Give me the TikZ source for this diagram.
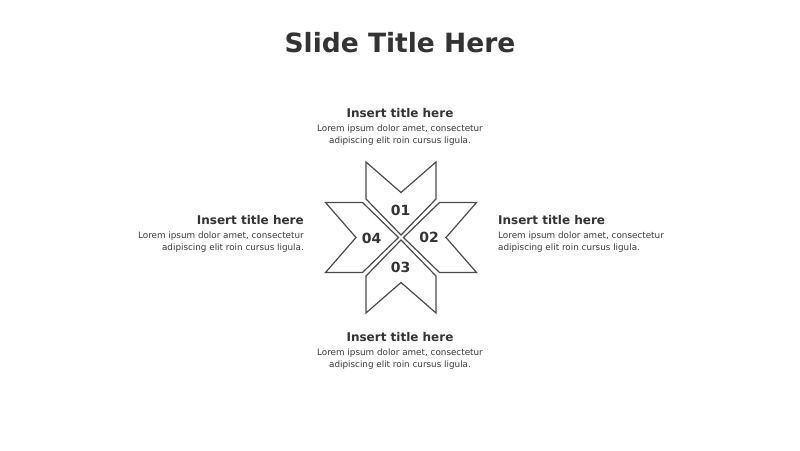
\documentclass[tikz,border=0pt]{standalone}
\usepackage{fontspec}
\setmainfont{DejaVu Sans}
\definecolor{titlecol}{HTML}{333333}
\definecolor{headcol}{HTML}{333333}
\definecolor{bodycol}{HTML}{3C3C3C}
\definecolor{linecol}{HTML}{4A4A4A}
\begin{document}
\begin{tikzpicture}[x=1pt,y=-1pt,
  slidetitle/.style={anchor=base,text=titlecol,font=\fontsize{26.5}{30}\selectfont\bfseries,inner sep=0pt},
  head/.style={text=headcol,font=\fontsize{12}{14}\selectfont\bfseries,inner sep=0pt},
  body/.style={text=bodycol,font=\fontsize{8.8}{12}\selectfont,inner sep=0pt},
  piece/.style={draw=linecol,line width=1.2pt,fill=white,line join=miter},
  num/.style={text=headcol,font=\fontsize{14}{16}\selectfont\bfseries,inner sep=0pt}
]
\useasboundingbox (0,0) rectangle (800,450);
\fill[white] (0,0) rectangle (800,450);

\node[slidetitle] (title) at (400,52) {Slide Title Here};

% star of four chevrons
\coordinate (c) at (401,237.5);
\foreach \ang/\nm in {0/p1,90/p2,180/p3,270/p4}{
  \begin{scope}[shift={(c)},rotate=\ang]
    \draw[piece] (-35,-75.5) -- (0,-45) -- (35,-75.5) -- (35,-38.5) -- (0,-2.5) -- (-35,-38.5) -- cycle;
  \end{scope}
}
\node[num] (n1) at (400.7,210) {01};
\node[num] (n2) at (429,237.5) {02};
\node[num] (n3) at (400.7,267) {03};
\node[num] (n4) at (371.7,238) {04};

% top text
\node[head,anchor=base] (h1) at (400,117.5) {Insert title here};
\node[body,anchor=base] (b1a) at (400,131.5) {Lorem ipsum dolor amet, consectetur};
\node[body,anchor=base] (b1b) at (400,143.5) {adipiscing elit roin cursus ligula.};

% right text
\node[head,anchor=base west] (h2) at (498,224.5) {Insert title here};
\node[body,anchor=base west] (b2a) at (498,238.5) {Lorem ipsum dolor amet, consectetur};
\node[body,anchor=base west] (b2b) at (498,250.5) {adipiscing elit roin cursus ligula.};

% left text
\node[head,anchor=base east] (h4) at (304,224.5) {Insert title here};
\node[body,anchor=base east] (b4a) at (304,238.5) {Lorem ipsum dolor amet, consectetur};
\node[body,anchor=base east] (b4b) at (304,250.5) {adipiscing elit roin cursus ligula.};

% bottom text
\node[head,anchor=base] (h3) at (400,341.5) {Insert title here};
\node[body,anchor=base] (b3a) at (400,355.5) {Lorem ipsum dolor amet, consectetur};
\node[body,anchor=base] (b3b) at (400,367.5) {adipiscing elit roin cursus ligula.};
\end{tikzpicture}
\end{document}
